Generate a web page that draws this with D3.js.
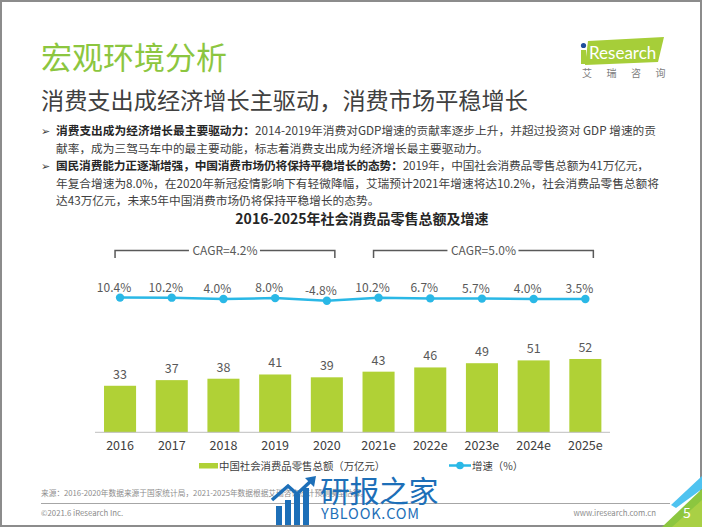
<!DOCTYPE html>
<html><head><meta charset="utf-8">
<script src="https://cdn.jsdelivr.net/npm/d3@7"></script>
<style>
html,body{margin:0;padding:0;background:#fff;}
svg{display:block;font-family:"Noto Sans CJK SC","Noto Sans",sans-serif;}
</style></head>
<body>
<script>
const categories = ["2016","2017","2018","2019","2020","2021e","2022e","2023e","2024e","2025e"];
const salesValues = [33,37,38,41,39,43,46,49,51,52];
const growthValues = [10.4,10.2,4.0,8.0,-4.8,10.2,6.7,5.7,4.0,3.5];
const growthLabels = ["10.4%","10.2%","4.0%","8.0%","-4.8%","10.2%","6.7%","5.7%","4.0%","3.5%"];
const cagrGroups = [{from:"2016",to:"2020",label:"CAGR=4.2%"},{from:"2021e",to:"2025e",label:"CAGR=5.0%"}];
const legendLabels = ["中国社会消费品零售总额（万亿元）","增速（%）"];
const chartTitle = "2016-2025年社会消费品零售总额及增速";

const W=702,H=527;
const svg=d3.select("body").append("svg").attr("width",W).attr("height",H);

// page border
svg.append("rect").attr("x",1).attr("y",1).attr("width",W-2).attr("height",H-2)
  .attr("fill","none").attr("stroke","#8c8c8c").attr("stroke-width",2);

// header
svg.append("text").attr("x",41).attr("y",69).attr("font-size",31).attr("fill","#8cc63f").text("宏观环境分析");
svg.append("text").attr("x",41).attr("y",109).attr("font-size",23.2).attr("fill","#404040").text("消费支出成经济增长主驱动，消费市场平稳增长");

// logo
const logo=svg.append("g");
logo.append("polygon").attr("points","588,41 664,37 658,62 585,65").attr("fill","#a6ce39");
logo.append("rect").attr("x",581).attr("y",50).attr("width",5).attr("height",14).attr("fill","#a6ce39");
logo.append("circle").attr("cx",583.5).attr("cy",45.5).attr("r",2.6).attr("fill","#1f4e9c");
logo.append("text").attr("x",589).attr("y",59).attr("font-size",17).attr("fill","#fff").attr("font-family","Lato, 'Open Sans', sans-serif").text("Research");
["艾","瑞","咨","询"].forEach((c,i)=>logo.append("text").attr("x",587+i*24.5).attr("y",77).attr("font-size",10).attr("fill","#808080").attr("text-anchor","middle").text(c));

// bullets
const lines=[
 {y:135,b:true,w:600,segs:[["消费支出成为经济增长最主要驱动力：",true],["2014-2019年消费对GDP增速的贡献率逐步上升，并超过投资对 GDP 增速的贡",false]]},
 {y:152.5,b:false,w:0,segs:[["献率，成为三驾马车中的最主要动能，标志着消费支出成为经济增长最主要驱动力。",false]]},
 {y:170,b:true,w:593,segs:[["国民消费能力正逐渐增强，中国消费市场仍将保持平稳增长的态势：",true],["2019年，中国社会消费品零售总额为41万亿元，",false]]},
 {y:187.5,b:false,w:603,segs:[["年复合增速为8.0%，在2020年新冠疫情影响下有轻微降幅，艾瑞预计2021年增速将达10.2%，社会消费品零售总额将",false]]},
 {y:205,b:false,w:0,segs:[["达43万亿元，未来5年中国消费市场仍将保持平稳增长的态势。",false]]}
];
lines.forEach(l=>{
  if(l.b) svg.append("text").attr("x",41).attr("y",l.y).attr("font-size",11).attr("fill","#404040").text("➢");
  const t=svg.append("text").attr("x",56).attr("y",l.y).attr("font-size",11.7).attr("fill","#404040");
  if(l.w) t.attr("textLength",l.w).attr("lengthAdjust","spacing");
  l.segs.forEach(s=>t.append("tspan").attr("font-weight",s[1]?"bold":"normal").attr("fill",s[1]?"#262626":"#404040").text(s[0]));
});

// chart title
svg.append("text").attr("x",362).attr("y",224).attr("text-anchor","middle").attr("font-size",14).attr("font-weight","bold").attr("fill","#262626").text(chartTitle);

// scales
const x=d3.scaleBand().domain(categories).range([94.2,611.2]).paddingInner(0.38).paddingOuter(0.19);
const yBar=d3.scaleLinear().domain([0,100]).range([432.3,291.3]);
const yLine=d3.scaleLinear().domain([-20,20]).range([304,295.6]);
const cx=d=>x(d)+x.bandwidth()/2;

// bars
const barColor="#b0d136";
svg.append("g").selectAll("rect").data(categories).join("rect")
  .attr("x",d=>x(d)).attr("width",x.bandwidth())
  .attr("y",(d,i)=>yBar(salesValues[i])).attr("height",(d,i)=>yBar(0)-yBar(salesValues[i]))
  .attr("fill",barColor);
svg.append("g").selectAll("text").data(categories).join("text")
  .attr("x",d=>cx(d)).attr("y",(d,i)=>yBar(salesValues[i])-7)
  .attr("text-anchor","middle").attr("font-size",12.5).attr("fill","#595959")
  .text((d,i)=>salesValues[i]);

// x axis
const ax=svg.append("g").attr("transform",`translate(0,${yBar(0)})`).call(d3.axisBottom(x).tickSize(0).tickPadding(9));
ax.select(".domain").attr("stroke","#bfbfbf").attr("d","M95,0H610");
ax.selectAll("text").attr("font-size",12.5).attr("fill","#404040").attr("font-family","'Noto Sans CJK SC','Noto Sans',sans-serif");

// line
const lineColor="#2ab8e6";
const lineGen=d3.line().x((d,i)=>cx(categories[i])).y(d=>yLine(d));
svg.append("path").datum(growthValues).attr("d",lineGen).attr("fill","none").attr("stroke",lineColor).attr("stroke-width",2.5);
svg.append("g").selectAll("circle").data(growthValues).join("circle")
  .attr("cx",(d,i)=>cx(categories[i])).attr("cy",d=>yLine(d)).attr("r",4.2).attr("fill",lineColor);
svg.append("g").selectAll("text").data(growthLabels).join("text")
  .attr("x",(d,i)=>cx(categories[i])-6).attr("y",(d,i)=>yLine(growthValues[i])-6)
  .attr("text-anchor","middle").attr("font-size",12).attr("fill","#595959").text(d=>d);

// CAGR brackets
cagrGroups.forEach(g=>{
  const x0=cx(g.from)-5,x1=cx(g.to)+8,yb=250.5,yt=258,mid=(x0+x1)/2;
  const gg=svg.append("g");
  gg.append("path").attr("d",`M${x0},${yt}V${yb}H${mid-36}M${mid+35},${yb}H${x1}V${yt}`)
    .attr("fill","none").attr("stroke","#595959").attr("stroke-width",1.5);
  gg.append("text").attr("x",mid).attr("y",yb+4.5).attr("text-anchor","middle").attr("font-size",12).attr("fill","#595959").text(g.label);
});

// legend
svg.append("rect").attr("x",199).attr("y",463).attr("width",19).attr("height",5.5).attr("fill",barColor);
svg.append("text").attr("x",219).attr("y",469.5).attr("font-size",10.4).attr("fill","#404040").text(legendLabels[0]);
svg.append("line").attr("x1",449).attr("x2",471).attr("y1",465.5).attr("y2",465.5).attr("stroke",lineColor).attr("stroke-width",2.5);
svg.append("circle").attr("cx",460).attr("cy",465.5).attr("r",3.8).attr("fill",lineColor);
svg.append("text").attr("x",472).attr("y",469.5).attr("font-size",10.4).attr("fill","#404040").text(legendLabels[1]);

// source and footer
svg.append("text").attr("x",41).attr("y",496).attr("font-size",7.7).attr("fill","#8c8c8c").text("来源：2016-2020年数据来源于国家统计局，2021-2025年数据根据艾瑞咨询统计预测模型估算。");
svg.append("line").attr("x1",41).attr("x2",670).attr("y1",503.5).attr("y2",503.5).attr("stroke","#a6a6a6").attr("stroke-width",1);
svg.append("text").attr("x",41).attr("y",516).attr("font-size",7.8).attr("fill","#8c8c8c").text("©2021.6 iResearch Inc.");
svg.append("text").attr("x",656).attr("y",516).attr("text-anchor","end").attr("font-size",7.8).attr("fill","#8c8c8c").text("www.iresearch.com.cn");

// corner decoration
svg.append("polygon").attr("points","702,476 702,489 676,508 671,505").attr("fill","#4fc3f0");
svg.append("polygon").attr("points","702,489 702,527 662,527").attr("fill","#8cc63f");
svg.append("polygon").attr("points","702,500 702,527 672,527").attr("fill","#a9d045");
svg.append("text").attr("x",687).attr("y",518).attr("text-anchor","middle").attr("font-size",14).attr("fill","#fff").text("5");

// watermark
const wm=svg.append("g");
const wmBlue="#1d6fb8";
[[276,506],[285,500],[294,494],[303,488]].forEach(b=>wm.append("rect").attr("x",b[0]).attr("y",b[1]).attr("width",6).attr("height",525-b[1]).attr("fill",wmBlue));
wm.append("path").attr("d","M272,500L288,486L297,494L312,480").attr("fill","none").attr("stroke",wmBlue).attr("stroke-width",3.5);
wm.append("polygon").attr("points","305,478 316,476 314,487").attr("fill",wmBlue);
wm.append("text").attr("x",320).attr("y",502).attr("font-size",30).attr("fill",wmBlue).attr("letter-spacing",-0.5).text("研报之家");
wm.append("text").attr("x",321).attr("y",519).attr("font-size",14.5).attr("fill",wmBlue).attr("letter-spacing",0.8).text("YBLOOK.COM");
</script>
</body></html>
